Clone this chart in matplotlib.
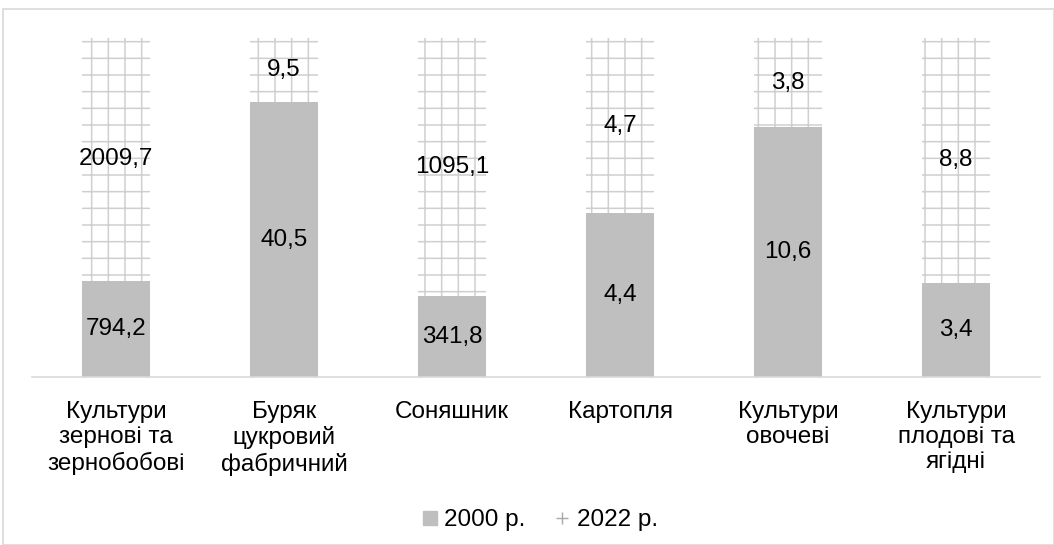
import numpy as np
import matplotlib
matplotlib.use("Agg")
import matplotlib.pyplot as plt
from matplotlib.patches import Rectangle
from matplotlib.lines import Line2D

plt.rcParams.update({
    "font.family": ["Liberation Sans", "DejaVu Sans"],
    "hatch.color": "#cfcfcf",
    "hatch.linewidth": 1.1,
})

categories = ["Культури\nзернові та\nзернобобові", "Буряк\nцукровий\nфабричний",
              "Соняшник", "Картопля", "Культури\nовочеві", "Культури\nплодові та\nягідні"]
v2000 = np.array([794.2, 40.5, 341.8, 4.4, 10.6, 3.4])
v2022 = np.array([2009.7, 9.5, 1095.1, 4.7, 3.8, 8.8])
labels2000 = ["794,2", "40,5", "341,8", "4,4", "10,6", "3,4"]
labels2022 = ["2009,7", "9,5", "1095,1", "4,7", "3,8", "8,8"]

# share of each year within a crop (100% stacked)
total = v2000 + v2022
s2000 = v2000 / total
s2022 = v2022 / total
x = np.arange(len(categories))
FS = 17.5

fig = plt.figure(figsize=(10.54, 5.45), dpi=100)
fig.patches.append(Rectangle((3 / 1054, 0), 1 - 3 / 1054, 1 - 9 / 545,
                             transform=fig.transFigure, fill=False,
                             edgecolor="#d9d9d9", lw=1.2))
ax = fig.add_axes([32 / 1054, 1 - 377 / 545, 1008 / 1054, 339 / 545])

ax.bar(x, s2000, width=0.4, color="#bfbfbf", label="2000 р.")
ax.bar(x, s2022, width=0.4, bottom=s2000, color="white", hatch="+",
       edgecolor="#cfcfcf", lw=0, label="2022 р.")

for i in x:
    ax.text(i, s2000[i] / 2, labels2000[i], ha="center", va="center", fontsize=FS)
    ax.text(i, s2000[i] + s2022[i] / 2, labels2022[i], ha="center", va="center",
            fontsize=FS)

ax.set_xlim(-0.5, len(categories) - 0.5)
ax.set_ylim(0, 1)
ax.set_yticks([])
ax.set_xticks(x)
ax.set_xticklabels(categories, fontsize=FS, linespacing=1.2)
ax.tick_params(axis="x", length=0, pad=17)
for s in ["top", "right", "left"]:
    ax.spines[s].set_visible(False)
ax.spines["bottom"].set_color("#d9d9d9")
ax.spines["bottom"].set_linewidth(1.2)

handles = [Line2D([], [], ls="none", marker="s", markersize=10, color="#bfbfbf",
                  label="2000 р."),
           Line2D([], [], ls="none", marker="+", markersize=8, markeredgewidth=1,
                  color="#a8a8a8", label="2022 р.")]
fig.legend(handles=handles, loc="center", bbox_to_anchor=(540 / 1054, 1 - 520 / 545),
           ncol=2, frameon=False, fontsize=FS, handlelength=0.6,
           handletextpad=0.3, columnspacing=1.2)

fig.savefig("out.png", dpi=100)
